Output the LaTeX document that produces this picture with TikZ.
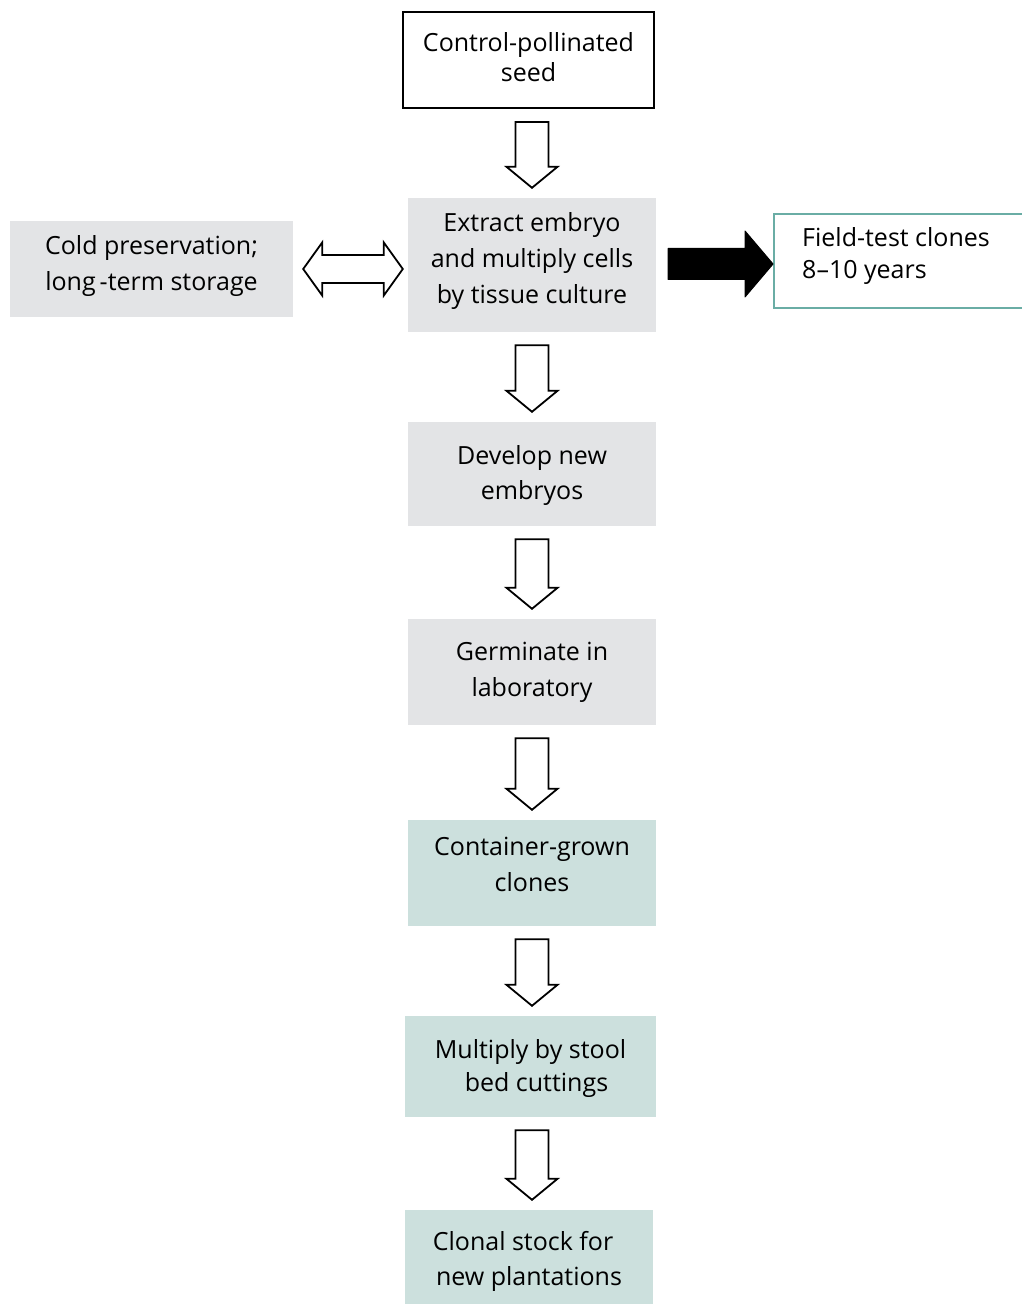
\documentclass[tikz,border=0pt]{standalone}
\usepackage{fontspec}
\setmainfont{Open Sans}
\usetikzlibrary{calc}
\definecolor{boxgray}{RGB}{227,228,230}
\definecolor{boxteal}{RGB}{204,224,221}
\definecolor{fieldteal}{RGB}{106,173,165}
\tikzset{
  lbl/.style={font=\fontsize{25}{36}\selectfont, inner sep=0pt, align=center},
  whitebox/.style={draw=black, line width=2pt, fill=white, inner sep=0pt},
  graybox/.style={fill=boxgray, inner sep=0pt},
  tealbox/.style={fill=boxteal, inner sep=0pt},
  fieldbox/.style={draw=fieldteal, line width=2pt, fill=white, inner sep=0pt},
  hollow/.style={draw=black, line width=1.8pt, fill=white, line join=miter},
  solidarrow/.style={fill=black, draw=black, line width=1pt, line join=round},
}
\newcommand\hollowdown[2]{%
  \draw[hollow] let \p1=(#1.south), \p2=(#2.north), \p3=(b2.center) in
    (\x3-16.5pt,\y1-13pt) -- (\x3+16.5pt,\y1-13pt) -- (\x3+16.5pt,\y2+31pt)
    -- (\x3+25.5pt,\y2+31pt) -- (\x3,\y2+10pt) -- (\x3-25.5pt,\y2+31pt)
    -- (\x3-16.5pt,\y2+31pt) -- cycle;}
\begin{document}
\begin{tikzpicture}[x=1pt,y=-1pt]
\useasboundingbox (0,0) rectangle (1021,1305);
% boxes
\node[whitebox, minimum width=251, minimum height=96] (b1) at (528.5,60) {};
\node[graybox, minimum width=248, minimum height=134] (b2) at (532,265) {};
\node[graybox, minimum width=283, minimum height=96] (cold) at (151.5,269) {};
\node[fieldbox, minimum width=280, minimum height=94, anchor=north west] (field) at (773,213) {};
\node[graybox, minimum width=248, minimum height=104] (b3) at (532,474) {};
\node[graybox, minimum width=248, minimum height=106] (b4) at (532,672) {};
\node[tealbox, minimum width=248, minimum height=106] (b5) at (532,873) {};
\node[tealbox, minimum width=251, minimum height=101] (b6) at (530.5,1066.5) {};
\node[tealbox, minimum width=248, minimum height=94] (b7) at (529,1257) {};
% texts
\node[lbl] (t1) at ($(b1.center)+(0,-2.5)$) {Control-pollinated\\[-6pt]seed};
\node[lbl] (t2) at ($(b2.center)+(0,-3.5)$) {Extract embryo\\and multiply cells\\by tissue culture};
\node[lbl] (tcold) at ($(cold.center)+(0,-3)$) {Cold preservation;\\long\kern4pt-term storage};
\node[lbl, anchor=west, align=left] (tfield) at (802,256) {Field-test clones\\[-4pt]8--10 years};
\node[lbl] (t3) at ($(b3.center)+(0,2)$) {Develop new\\[-1pt]embryos};
\node[lbl] (t4) at ($(b4.center)+(0,0.5)$) {Germinate in\\laboratory};
\node[lbl] (t5) at ($(b5.center)+(0,-9)$) {Container-grown\\clones};
\node[lbl] (t6) at ($(b6.center)+(0,2)$) {Multiply by stool\\[-3pt]\hspace*{12pt}bed cuttings};
\node[lbl] (t7) at ($(b7.center)+(0,4)$) {Clonal stock for\hspace*{12pt}\\[-1pt]new plantations};
% connectors
\hollowdown{b1}{b2}
\hollowdown{b2}{b3}
\hollowdown{b3}{b4}
\hollowdown{b4}{b5}
\hollowdown{b5}{b6}
\hollowdown{b6}{b7}
\draw[hollow] let \p1=(cold.east), \p2=(b2.west) in
  (\x1+10pt,\y1) -- (\x1+29pt,\y1+26.5pt) -- (\x1+29pt,\y1+14pt) -- (\x2-24pt,\y1+14pt)
  -- (\x2-24pt,\y1+26.5pt) -- (\x2-5pt,\y1) -- (\x2-24pt,\y1-26.5pt) -- (\x2-24pt,\y1-14pt)
  -- (\x1+29pt,\y1-14pt) -- (\x1+29pt,\y1-26.5pt) -- cycle;
\draw[solidarrow] let \p1=(b2.east), \p2=(field.west) in
  (\x1+12pt,\y2-3pt+15.5pt) -- (\x2-28pt,\y2-3pt+15.5pt) -- (\x2-28pt,\y2-3pt+33pt)
  -- (\x2,\y2-3pt) -- (\x2-28pt,\y2-3pt-33pt) -- (\x2-28pt,\y2-3pt-15.5pt)
  -- (\x1+12pt,\y2-3pt-15.5pt) -- cycle;
\end{tikzpicture}
\end{document}
